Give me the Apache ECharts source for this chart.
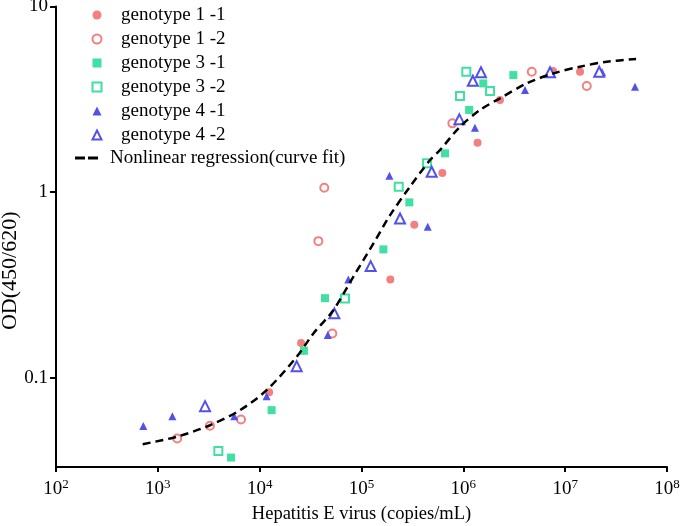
<!DOCTYPE html>
<html>
<head>
<meta charset="utf-8">
<script src="https://cdn.jsdelivr.net/npm/echarts@6/dist/echarts.min.js"></script>
<style>
html,body{margin:0;padding:0;background:#fff;}
#chart{width:680px;height:526px;}
</style>
</head>
<body>
<div id="chart"></div>
<script>
// Data: [virus copies/mL, OD(450/620)]
const g1_1 = [[1.24e4,0.0835],[2.55e4,0.1535],[1.92e5,0.338],[3.30e5,0.666],[6.22e5,1.266],[1.38e6,1.845],[2.29e6,3.13],[7.60e6,4.49],[1.40e7,4.45]];
const g1_2 = [[1.55e3,0.047],[3.25e3,0.055],[6.56e3,0.0595],[3.77e4,0.544],[4.31e4,1.055],[5.17e4,0.173],[7.80e5,2.346],[4.70e6,4.45],[1.63e7,3.73]];
const g3_1 = [[5.23e3,0.0371],[1.31e4,0.0668],[2.72e4,0.1395],[4.38e4,0.268],[1.64e5,0.491],[2.95e5,0.880],[6.61e5,1.617],[1.14e6,2.77],[1.57e6,3.85],[3.10e6,4.27]];
const g3_2 = [[3.93e3,0.0402],[6.89e4,0.267],[2.32e5,1.068],[4.40e5,1.428],[9.27e5,3.29],[1.07e6,4.45],[1.83e6,3.50]];
const g4_1 = [[7.2e2,0.0548],[1.39e3,0.062],[5.63e3,0.062],[1.17e4,0.0795],[4.66e4,0.1695],[7.42e4,0.338],[1.88e5,1.224],[4.47e5,0.650],[1.30e6,2.22],[4.03e6,3.55],[2.30e7,4.44],[4.85e7,3.70]];
const g4_2 = [[2.91e3,0.0702],[2.31e4,0.1153],[5.41e4,0.222],[1.23e5,0.399],[2.39e5,0.721],[4.89e5,1.287],[9.14e5,2.466],[1.24e6,3.98],[1.49e6,4.42],[7.10e6,4.42],[2.16e7,4.45]];
const fitCurve = [[7.1e2,0.0438],[1.53e3,0.048],[3.25e3,0.0554],[6.41e3,0.0668],[1.17e4,0.0856],[2.31e4,0.1295],[3.37e4,0.173],[5.29e4,0.231],[8.31e4,0.3495],[1.31e5,0.529],[1.91e5,0.751],[2.99e5,1.068],[4.71e5,1.488],[5.90e5,1.684],[9.27e5,2.25],[1.46e6,2.77],[2.29e6,3.20],[4.19e6,3.85],[7.65e6,4.36],[1.40e7,4.74],[2.56e7,5.04],[4.97e7,5.21]];
const xTicks = [1e2,1e3,1e4,1e5,1e6,1e7,1e8];
const yTicks = [0.1,1,10];
const seriesNames = ['genotype 1 -1','genotype 1 -2','genotype 3 -1','genotype 3 -2','genotype 4 -1','genotype 4 -2'];
const fitName = 'Nonlinear regression(curve fit)';

const PINK = '#F2807E', GREEN = '#3FE0A2', BLUE = '#5252E8';
const FONT = '"Liberation Serif","Times New Roman",serif';

const chart = echarts.init(document.getElementById('chart'), null, {renderer:'canvas'});
function sc(name, data, symbol, size, color, bw){
  return {
    name, type:'scatter', data, symbol, symbolSize:size,
    itemStyle:{color:color, borderColor:color, borderWidth:bw||0, opacity:1},
    emphasis:{disabled:true}, z:2
  };
}
const option = {
  animation:false,
  backgroundColor:'#fff',
  grid:{left:56,right:13,top:6.5,bottom:59,containLabel:false,outerBoundsMode:'none'},
  legend:[{
    data:seriesNames, orient:'vertical', left:91.5, top:5.5, padding:0,
    itemWidth:9, itemHeight:9, itemGap:5,
    textStyle:{fontFamily:FONT,fontSize:19,color:'#000',padding:[0,0,0,14.5]},
    selectedMode:false
  },{
    data:[{name:fitName, icon:'path://M0,0 L10,0 L10,3 L0,3 Z M13,0 L23,0 L23,3 L13,3 Z'}],
    orient:'vertical', left:75, top:148.5, padding:0,
    itemWidth:23, itemHeight:3,
    textStyle:{fontFamily:FONT,fontSize:19,color:'#000',padding:[0,0,0,7]},
    selectedMode:false
  }],
  xAxis:{
    type:'log', logBase:10, min:1e2, max:1e8,
    name:'Hepatitis E virus (copies/mL)', nameLocation:'middle', nameGap:38, nameMoveOverlap:false,
    nameTextStyle:{fontFamily:FONT,fontSize:18.5,color:'#000'},
    axisLine:{lineStyle:{color:'#000',width:2}},
    axisTick:{show:true,length:5,lineStyle:{color:'#000',width:2},customValues:xTicks},
    axisLabel:{
      customValues:xTicks, margin:11,
      formatter:function(v){return '10{s|'+Math.round(Math.log10(v))+'}';},
      fontFamily:FONT,fontSize:19,color:'#000',
      rich:{s:{fontFamily:FONT,fontSize:13,color:'#000',verticalAlign:'top',padding:[0,0,9,0]}}
    },
    splitLine:{show:false}, minorTick:{show:false}
  },
  yAxis:{
    type:'log', logBase:10, min:0.033, max:10,
    name:'OD(450/620)', nameLocation:'middle', nameRotate:90, nameGap:35, nameMoveOverlap:false,
    nameTextStyle:{fontFamily:FONT,fontSize:22,color:'#000',padding:[0,68,0,0]},
    axisLine:{show:true,lineStyle:{color:'#000',width:2}},
    axisTick:{show:true,length:6,lineStyle:{color:'#000',width:2},customValues:yTicks},
    axisLabel:{
      customValues:yTicks, margin:8,
      formatter:function(v){return v>=1?String(Math.round(v)):String(Math.round(v*10)/10);},
      fontFamily:FONT,fontSize:19,color:'#000'
    },
    splitLine:{show:false}, minorTick:{show:false}
  },
  series:[
    sc(seriesNames[0], g1_1, 'circle', 8, PINK, 0),
    sc(seriesNames[1], g1_2, 'emptyCircle', 8, PINK, 2.5),
    sc(seriesNames[2], g3_1, 'rect', 8, GREEN, 0),
    sc(seriesNames[3], g3_2, 'emptyRect', 8, GREEN, 2),
    sc(seriesNames[4], g4_1, 'triangle', 8, BLUE, 0),
    sc(seriesNames[5], g4_2, 'emptyTriangle', 10, BLUE, 2.5),
    {
      name:fitName, type:'line', data:fitCurve, smooth:0.3, symbol:'none', showSymbol:false,
      lineStyle:{color:'#000',width:2.5,type:[8,5]},
      itemStyle:{color:'#000'},
      emphasis:{disabled:true}, z:3
    }
  ]
};
chart.setOption(option);
</script>
</body>
</html>
